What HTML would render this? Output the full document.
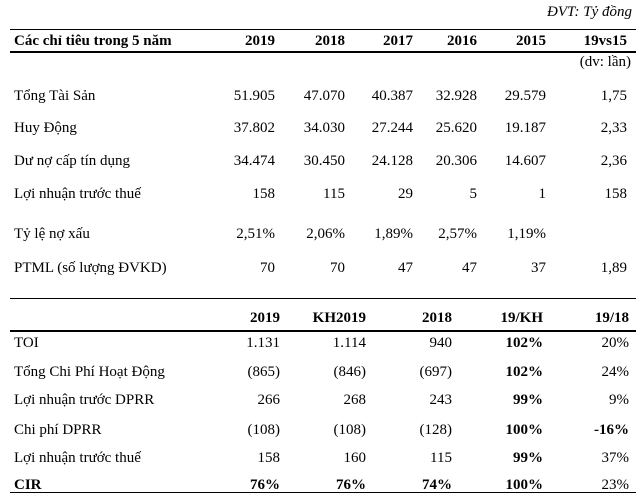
<!DOCTYPE html>
<html><head><meta charset="utf-8"><style>
body{margin:0;width:640px;height:494px;background:#fff;position:relative;overflow:hidden;font-family:"Liberation Serif","Noto Serif CJK SC",serif;font-size:15px;color:#000}
.t{position:absolute;white-space:nowrap;line-height:18px;transform:translateY(-9px)}
.b{font-weight:bold}
.line{position:absolute;left:10px;width:626px;background:#000}
</style></head><body>
<div class="t" style="right:8px;top:12px;font-style:italic">ĐVT: Tỷ đồng</div>
<div class="line" style="top:29px;height:1px"></div>
<div class="line" style="top:51px;height:2px"></div>
<div class="line" style="top:298px;height:1px"></div>
<div class="line" style="top:330px;height:2px"></div>
<div class="line" style="top:492px;height:1px"></div>
<div id="root"></div>
<script>
const t1Cols=[275,345,413,477,546,627];
const t1Header=["2019","2018","2017","2016","2015","19vs15"];
const t1Rows=[
["Tổng Tài Sản",96,["51.905","47.070","40.387","32.928","29.579","1,75"]],
["Huy Động",128,["37.802","34.030","27.244","25.620","19.187","2,33"]],
["Dư nợ cấp tín dụng",161,["34.474","30.450","24.128","20.306","14.607","2,36"]],
["Lợi nhuận trước thuế",194,["158","115","29","5","1","158"]],
["Tỷ lệ nợ xấu",234,["2,51%","2,06%","1,89%","2,57%","1,19%",""]],
["PTML (số lượng ĐVKD)",268,["70","70","47","47","37","1,89"]]];
const t2Cols=[280,366,452,543,629];
const t2Header=["2019","KH2019","2018","19/KH","19/18"];
const t2Rows=[
["TOI",343,["1.131","1.114","940","102%","20%"],false],
["Tổng Chi Phí Hoạt Động",372,["(865)","(846)","(697)","102%","24%"],false],
["Lợi nhuận trước DPRR",400,["266","268","243","99%","9%"],false],
["Chi phí DPRR",430,["(108)","(108)","(128)","100%","-16%"],false],
["Lợi nhuận trước thuế",458,["158","160","115","99%","37%"],false],
["CIR",485,["76%","76%","74%","100%","23%"],true]];
const root=document.getElementById('root');
function add(txt,x,y,right,bold,name){
 const d=document.createElement('div');
 d.className='t'+(bold?' b':'');
 d.textContent=txt;
 d.style.top=y+'px';
 if(right){d.style.right=(640-x)+'px';}else{d.style.left=x+'px';}
 
 
 root.appendChild(d);
}
add("Các chỉ tiêu trong 5 năm",14,41,false,true,'table1-header-label');
t1Header.forEach((h,i)=>add(h,t1Cols[i],41,true,true,'table1-col-header'));
add("(dv: lần)",631,62,true,false,'unit-note');
t1Rows.forEach(r=>{add(r[0],14,r[1],false,false,'table1-row-label');r[2].forEach((v,i)=>{if(v)add(v,t1Cols[i],r[1],true,false,'table1-cell');});});
t2Header.forEach((h,i)=>add(h,t2Cols[i],318,true,true,'table2-col-header'));
t2Rows.forEach(r=>{add(r[0],14,r[1],false,r[3],'table2-row-label');r[2].forEach((v,i)=>add(v,t2Cols[i],r[1],true,(r[3]&&i<4)||i===3||(i===4&&v==="-16%"),'table2-cell'));});
</script>
</body></html>
